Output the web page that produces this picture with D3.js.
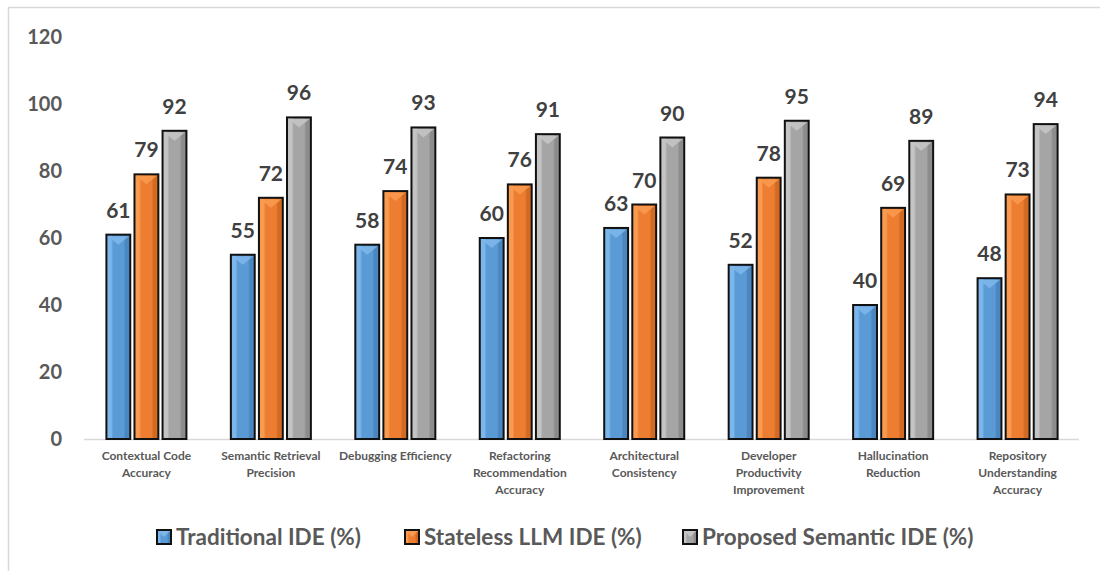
<!DOCTYPE html>
<meta charset="utf-8">
<style>
body { margin: 0; background: #fff; }
svg text { font-family: Lato, "Open Sans", sans-serif; }
.ytick { fill: #595959; font-size: 20px; font-weight: bold; }
.catlab { fill: #595959; font-size: 12px; font-weight: bold; }
.vallab { fill: #404040; font-size: 21px; font-weight: bold; }
.leglab { fill: #595959; font-size: 22.5px; font-weight: bold; }
</style>
<body>
<svg width="1100" height="571"></svg>
<script src="https://d3js.org/d3.v7.min.js"></script>
<script>

var categories = [
  ["Contextual Code", "Accuracy"],
  ["Semantic Retrieval", "Precision"],
  ["Debugging Efficiency"],
  ["Refactoring", "Recommendation", "Accuracy"],
  ["Architectural", "Consistency"],
  ["Developer", "Productivity", "Improvement"],
  ["Hallucination", "Reduction"],
  ["Repository", "Understanding", "Accuracy"]
];
var seriesNames = ["Traditional IDE (%)", "Stateless LLM IDE (%)", "Proposed Semantic IDE (%)"];
var traditional = [61, 55, 58, 60, 63, 52, 40, 48];
var stateless = [79, 72, 74, 76, 70, 78, 69, 73];
var proposed = [92, 96, 93, 91, 90, 95, 89, 94];
var yTicks = [0, 20, 40, 60, 80, 100, 120];

var series = [traditional, stateless, proposed];
var colors = [
  {base: "#5b9bd5", light: "#7db6ea", dark: "#4a86bf"},
  {base: "#ed7d31", light: "#f89a4f", dark: "#d26a22"},
  {base: "#a5a5a5", light: "#c4c4c4", dark: "#8c8c8c"}
];

var svg = d3.select("svg");

// outer frame (only top & left visible)
svg.append("path")
    .attr("d", "M8.5,571V7.5H1100")
    .attr("fill", "none")
    .attr("stroke", "#d9d9d9")
    .attr("stroke-width", 1.5);

var defs = svg.append("defs");
colors.forEach(function(c, i) {
  var g = defs.append("linearGradient").attr("id", "grad" + i)
      .attr("x1", "0").attr("x2", "1").attr("y1", "0").attr("y2", "0");
  g.append("stop").attr("offset", "0").attr("stop-color", c.light);
  g.append("stop").attr("offset", "0.2").attr("stop-color", c.light);
  g.append("stop").attr("offset", "0.28").attr("stop-color", c.base);
  g.append("stop").attr("offset", "0.72").attr("stop-color", c.base);
  g.append("stop").attr("offset", "0.8").attr("stop-color", c.dark);
  g.append("stop").attr("offset", "1").attr("stop-color", c.dark);
});

var y = d3.scaleLinear().domain([0, 120]).range([439, 37]);
var x0 = d3.scaleBand().domain(d3.range(categories.length)).range([84, 1080])
    .paddingInner(0.357).paddingOuter(0.18);
var x1 = d3.scaleBand().domain(d3.range(3)).range([0, x0.bandwidth()]).paddingInner(0.15);

// y tick labels
svg.append("g").selectAll("text").data(yTicks).enter().append("text")
    .attr("class", "ytick")
    .attr("x", 62)
    .attr("y", function(d) { return y(d); })
    .attr("dy", "0.35em")
    .attr("text-anchor", "end")
    .text(function(d) { return d; });

// baseline
svg.append("line")
    .attr("x1", 84).attr("x2", 1079)
    .attr("y1", y(0) + 0.5).attr("y2", y(0) + 0.5)
    .attr("stroke", "#d9d9d9").attr("stroke-width", 1.5);

var groups = svg.append("g").selectAll("g").data(categories).enter().append("g")
    .attr("transform", function(d, i) { return "translate(" + x0(i) + ",0)"; });

groups.each(function(cat, ci) {
  var g = d3.select(this);
  series.forEach(function(vals, si) {
    var v = vals[ci];
    var bx = x1(si), bw = x1.bandwidth(), top = y(v), bot = y(0);
    g.append("rect")
        .attr("x", bx).attr("y", top)
        .attr("width", bw).attr("height", bot - top)
        .attr("fill", "url(#grad" + si + ")")
        .attr("stroke", "#111").attr("stroke-width", 2);
    // top bevel triangle
    g.append("path")
        .attr("d", "M" + (bx + 1.5) + "," + (top + 1.5) + "L" + (bx + bw - 1.5) + "," + (top + 1.5) +
                   "L" + (bx + bw / 2) + "," + (top + 10) + "Z")
        .attr("fill", colors[si].light).attr("opacity", 0.9);
    g.append("text")
        .attr("class", "vallab")
        .attr("x", bx + bw / 2)
        .attr("y", top - 17)
        .attr("text-anchor", "middle")
        .text(v);
  });
  var t = g.append("text").attr("class", "catlab").attr("text-anchor", "middle");
  cat.forEach(function(line, li) {
    t.append("tspan").attr("x", x0.bandwidth() / 2).attr("y", 460 + li * 17).text(line);
  });
});

// legend
var legX = [157, 405, 683];
var leg = svg.append("g").selectAll("g").data(seriesNames).enter().append("g")
    .attr("transform", function(d, i) { return "translate(" + legX[i] + ",537)"; });
leg.append("rect")
    .attr("x", 0).attr("y", -7).attr("width", 14).attr("height", 14)
    .attr("fill", function(d, i) { return "url(#grad" + i + ")"; })
    .attr("stroke", "#111").attr("stroke-width", 2);
leg.append("path")
    .attr("d", "M1,-6L13,-6L7,0Z")
    .attr("fill", function(d, i) { return colors[i].light; });
leg.append("text")
    .attr("class", "leglab")
    .attr("x", 19).attr("y", 0).attr("dy", "0.35em")
    .text(function(d) { return d; });

</script>
</body>
